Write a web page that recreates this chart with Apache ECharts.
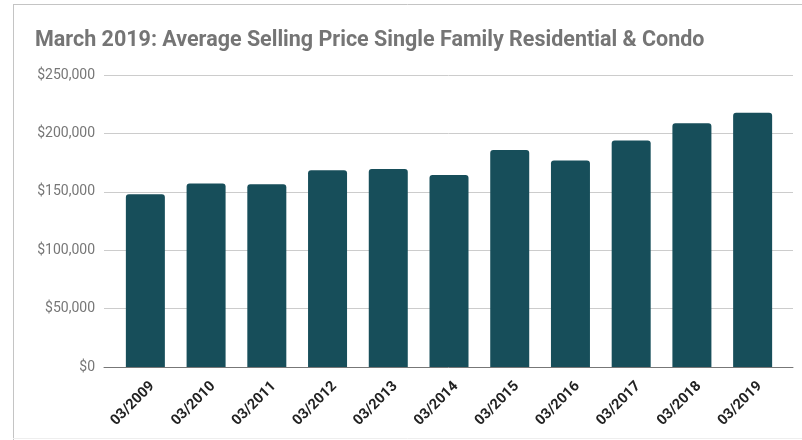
<!DOCTYPE html>
<html>
<head>
<meta charset="utf-8">
<style>
  html, body { margin: 0; padding: 0; background: #fff; }
  #chart { width: 802px; height: 440px; }
</style>
<script src="https://cdn.jsdelivr.net/npm/echarts@6/dist/echarts.min.js"></script>
</head>
<body>
<div id="chart"></div>
<script>
var categories = ["03/2009", "03/2010", "03/2011", "03/2012", "03/2013", "03/2014",
  "03/2015", "03/2016", "03/2017", "03/2018", "03/2019"];
var avgPrice = [148000, 157000, 156500, 168500, 169500, 164300,
  185700, 176900, 194000, 208600, 217700];
var yTicks = [0, 50000, 100000, 150000, 200000, 250000];

var chart = echarts.init(document.getElementById("chart"));

function money(v) {
  return "$" + String(v).replace(/\B(?=(\d{3})+(?!\d))/g, ",");
}

var option = {
  animation: false,
  textStyle: { fontFamily: "Roboto" },
  title: {
    text: "March 2019: Average Selling Price Single Family Residential & Condo",
    left: 30,
    top: 25,
    textStyle: { fontFamily: "Roboto", fontSize: 21.5, fontWeight: "bold", color: "#757575" }
  },
  graphic: [
    // card frame
    { type: "line", shape: { x1: 13, y1: 4.5, x2: 802, y2: 4.5 }, style: { stroke: "#c4c4c4", lineWidth: 1 } },
    { type: "line", shape: { x1: 13.5, y1: 4, x2: 13.5, y2: 440 }, style: { stroke: "#c4c4c4", lineWidth: 1 } },
    { type: "line", shape: { x1: 13, y1: 438.5, x2: 802, y2: 438.5 }, style: { stroke: "#eeeeee", lineWidth: 1 } }
  ],
  grid: [
    { left: 104, right: 9, top: 75, height: 292 },
    { left: 115, right: 19, top: 75, height: 292 }
  ],
  xAxis: [
    {
      gridIndex: 0,
      type: "category",
      data: [""],
      axisLine: { show: true, lineStyle: { color: "#777", width: 1 } },
      axisTick: { show: false },
      axisLabel: { show: false },
      splitLine: { show: false },
      z: 5
    },
    {
      gridIndex: 1,
      type: "category",
      data: categories,
      axisLine: { show: false },
      axisTick: { show: false },
      axisLabel: {
        rotate: 45,
        margin: 10,
        formatter: function (v) { return "{d|" + v + "}"; },
        rich: {
          d: {
            padding: [20, 0, 0, 0],
            fontFamily: "Roboto",
            fontSize: 14.5,
            fontWeight: "bold",
            color: "#222"
          }
        }
      }
    }
  ],
  yAxis: [
    {
      gridIndex: 0,
      type: "value",
      min: 0,
      max: 250000,
      interval: 50000,
      axisLine: { show: false },
      axisTick: { show: false },
      axisLabel: {
        margin: 9,
        fontFamily: "Roboto",
        fontSize: 14,
        color: "#777",
        formatter: function (v) {
          return yTicks.indexOf(v) >= 0 ? money(v) : "";
        }
      },
      splitLine: { lineStyle: { color: "#cccccc", width: 1 } }
    },
    {
      gridIndex: 1,
      type: "value",
      min: 0,
      max: 250000,
      show: false
    }
  ],
  series: [
    {
      name: "Average Selling Price",
      type: "bar",
      xAxisIndex: 1,
      yAxisIndex: 1,
      barWidth: 39,
      data: avgPrice,
      itemStyle: { color: "#174e5a", borderRadius: [3, 3, 0, 0] }
    }
  ]
};

chart.setOption(option);
</script>
</body>
</html>
